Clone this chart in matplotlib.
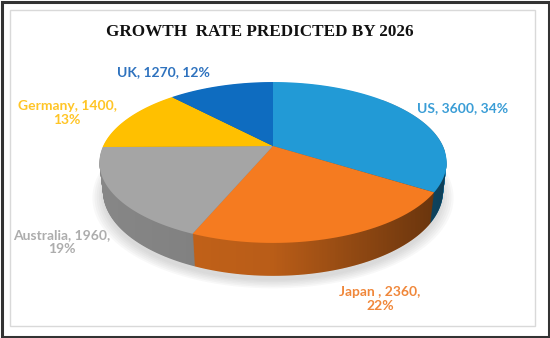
import numpy as np
import matplotlib
matplotlib.use('Agg')
import matplotlib.pyplot as plt
from matplotlib.transforms import Transform
from matplotlib.path import Path
from matplotlib.patches import Rectangle, Polygon
from matplotlib.colors import LinearSegmentedColormap, to_rgb

# data
countries = ['US', 'Japan ', 'Australia', 'Germany', 'UK']
values = [3600, 2360, 1960, 1400, 1270]

top_colors = ['#229AD6', '#F57B20', '#A5A5A5', '#FFC000', '#0E6CC0']
label_colors = ['#3A9DD6', '#F0873A', '#ADADAD', '#FFC526', '#2E72BE']
wrap = [False, True, True, True, False]
label_pos = [(463, 108), (380, 299), (62, 242), (67, 113), (163, 72)]

# camera used to fake the excel 3d pie (pixels, y from top)
CX, CY, F, D = 273, 146, 739, 4.35
SIN, COS = 0.4537, 0.891
THICK = 0.19


class Tilt(Transform):
    input_dims = output_dims = 2

    def __init__(self, h):
        super().__init__()
        self.h = h

    def transform_non_affine(self, pts):
        pts = np.asarray(pts, float)
        u, v = pts[:, 0], pts[:, 1]
        depth = D + v * COS - self.h * SIN
        up = v * SIN + self.h * COS
        return np.column_stack([CX + F * u / depth, CY - F * up / depth])

    def transform_path_non_affine(self, path):
        segs = [bez(np.linspace(0, 1, 24)) for bez, code in path.iter_bezier()]
        return Path(self.transform_non_affine(np.concatenate(segs)))


def hull(points):
    pts = sorted(map(tuple, points))
    def half(seq):
        out = []
        for p in seq:
            while len(out) >= 2 and ((out[-1][0] - out[-2][0]) * (p[1] - out[-2][1])
                                     - (out[-1][1] - out[-2][1]) * (p[0] - out[-2][0])) <= 0:
                out.pop()
            out.append(p)
        return out
    lo, up = half(pts), half(pts[::-1])
    return np.array(lo[:-1] + up[:-1])


def draw_pie(ax, h, colors, z):
    wedges, _ = ax.pie(values, colors=colors, startangle=90, counterclock=False,
                       wedgeprops=dict(linewidth=0))
    for w in wedges:
        w.set_transform(Tilt(h) + ax.transData)
        w.set_zorder(z)


fig = plt.figure(figsize=(5.5, 3.38), dpi=100)
ax = fig.add_axes([0, 0, 1, 1])

# soft shadow under the pie
th = np.linspace(0, 2 * np.pi, 361)
circ = np.column_stack([np.cos(th), np.sin(th)])
for k in range(6):
    sh = Tilt(-THICK - 0.01).transform_non_affine(circ * (1.0 + 0.012 * k))
    sh[:, 1] += 3
    ax.add_patch(Polygon(sh, closed=True, facecolor='#7f7f7f', alpha=0.05,
                         edgecolor='none', zorder=1))

# side wall: stacked darker pies + left-to-right shading
side_colors = [tuple(c * 0.82 for c in to_rgb(col)) for col in top_colors]
for h in np.linspace(-THICK, -0.005, 40):
    draw_pie(ax, h, side_colors, 2)

shade = LinearSegmentedColormap.from_list('shade', [(0, 0, 0, 0.0), (0, 0, 0, 0.08), (0, 0, 0, 0.5)])
outline = np.vstack([Tilt(0).transform_non_affine(circ), Tilt(-THICK).transform_non_affine(circ)])
im = ax.imshow(np.linspace(0, 1, 256)[None, :], cmap=shade, aspect='auto',
               extent=(CX - 172, CX + 172, 300, 100), zorder=3)
im.set_clip_path(Path(hull(outline)), ax.transData)

# top face
draw_pie(ax, 0, top_colors, 4)

total = sum(values)
for name, val, col, wr, pos in zip(countries, values, label_colors, wrap, label_pos):
    sep = '\n' if wr else ' '
    txt = f'{name}, {val},{sep}{val / total:.0%}'
    ax.text(pos[0], pos[1], txt, color=col, fontsize=10, fontweight='bold',
            family='Lato', ha='center', va='center', linespacing=1.25, zorder=5)

ax.text(260, 32, 'GROWTH  RATE PREDICTED BY 2026', fontsize=12.3, fontweight='bold',
        family='Liberation Serif', ha='center', va='center', color='#111111')

# frames
ax.add_patch(Rectangle((10, 10), 525, 316, facecolor='none', edgecolor='#D9D9D9', lw=1, zorder=0))
ax.add_patch(Rectangle((1.5, 1.5), 547, 335, facecolor='none', edgecolor='#333333', lw=2.2, zorder=6))

ax.set_xlim(0, 550)
ax.set_ylim(338, 0)
ax.set_aspect('auto')
ax.axis('off')

fig.savefig('out.png', dpi=100, facecolor='white')
